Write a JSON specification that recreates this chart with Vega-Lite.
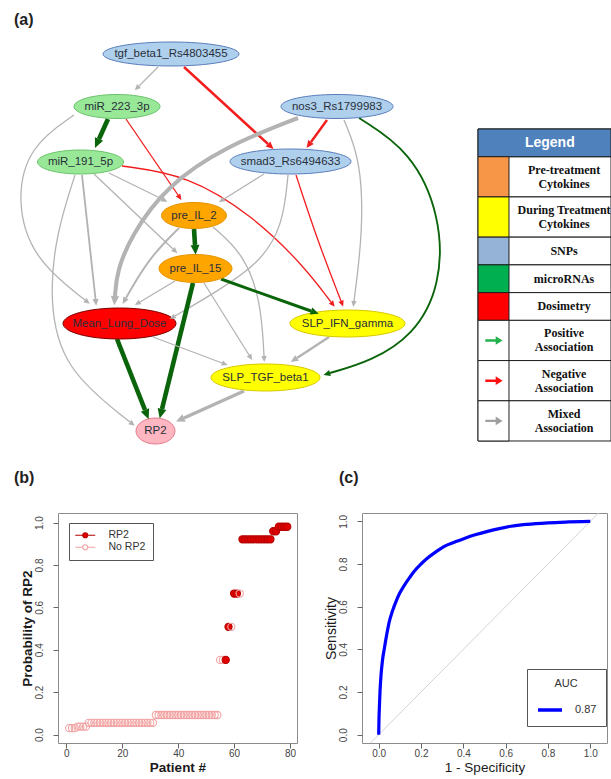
{
 "$schema": "https://vega.github.io/schema/vega-lite/v6.json",
 "background": "white",
 "padding": {"left": 13, "top": 12, "right": 0, "bottom": 2},
 "bounds": "full",
 "spacing": 13,
 "config": {
  "font": "Liberation Sans",
  "view": {"stroke": "#8c8c8c", "strokeWidth": 1},
  "axis": {"grid": false, "domain": false, "tickColor": "#666", "tickSize": 5, "labelColor": "#444", "labelFontSize": 10, "titleColor": "#1a1a1a", "labelOverlap": false, "labelFlush": false}
 },
 "resolve": {"scale": {"x": "independent", "y": "independent", "color": "independent", "fill": "independent", "stroke": "independent", "shape": "independent", "size": "independent", "strokeWidth": "independent"}},
 "datasets": {
  "nodes": [
   {"n": "tgf_beta1_Rs4803455", "g": "snp", "x": 17.0, "y": 5.3},
   {"n": "miR_223_3p", "g": "mirna", "x": 11.6, "y": 10.55},
   {"n": "nos3_Rs1799983", "g": "snp", "x": 33.6, "y": 10.55},
   {"n": "miR_191_5p", "g": "mirna", "x": 7.95, "y": 16.1},
   {"n": "smad3_Rs6494633", "g": "snp", "x": 28.95, "y": 16.05},
   {"n": "pre_IL_2", "g": "pre", "x": 19.3, "y": 21.45},
   {"n": "pre_IL_15", "g": "pre", "x": 19.45, "y": 26.75},
   {"n": "Mean_Lung_Dose", "g": "dose", "x": 11.85, "y": 32.25},
   {"n": "SLP_IFN_gamma", "g": "during", "x": 34.65, "y": 32.25},
   {"n": "SLP_TGF_beta1", "g": "during", "x": 26.45, "y": 37.65},
   {"n": "RP2", "g": "out", "x": 15.45, "y": 43.0}
  ],
  "edges": [
   {"e": 1, "t": "mixed", "w": 1, "o": 0, "x": 15.7, "y": 6.6}, {"e": 1, "t": "mixed", "w": 1, "o": 1, "x": 13.8, "y": 8.5},
   {"e": 2, "t": "negative", "w": 2, "o": 0, "x": 18.3, "y": 6.6}, {"e": 2, "t": "negative", "w": 2, "o": 1, "x": 26.7, "y": 14.3},
   {"e": 3, "t": "negative", "w": 2, "o": 0, "x": 32.6, "y": 11.9}, {"e": 3, "t": "negative", "w": 2, "o": 1, "x": 31.0, "y": 14.1},
   {"e": 4, "t": "positive", "w": 4, "o": 0, "x": 10.7, "y": 11.8}, {"e": 4, "t": "positive", "w": 4, "o": 1, "x": 9.8, "y": 13.8},
   {"e": 5, "t": "negative", "w": 1, "o": 0, "x": 12.5, "y": 11.8}, {"e": 5, "t": "negative", "w": 1, "o": 1, "x": 17.7, "y": 19.4},
   {"e": 6, "t": "negative", "w": 1, "o": 0, "x": 12.1, "y": 16.5}, {"e": 6, "t": "negative", "w": 1, "o": 1, "x": 18.7, "y": 17.4}, {"e": 6, "t": "negative", "w": 1, "o": 2, "x": 25.2, "y": 21.5}, {"e": 6, "t": "negative", "w": 1, "o": 3, "x": 30.2, "y": 26.4}, {"e": 6, "t": "negative", "w": 1, "o": 4, "x": 33.0, "y": 30.1},
   {"e": 7, "t": "negative", "w": 1, "o": 0, "x": 29.5, "y": 17.4}, {"e": 7, "t": "negative", "w": 1, "o": 1, "x": 31.6, "y": 23.8}, {"e": 7, "t": "negative", "w": 1, "o": 2, "x": 34.0, "y": 30.0},
   {"e": 8, "t": "mixed", "w": 1, "o": 0, "x": 34.3, "y": 11.9}, {"e": 8, "t": "mixed", "w": 1, "o": 1, "x": 36.0, "y": 16.0}, {"e": 8, "t": "mixed", "w": 1, "o": 2, "x": 36.2, "y": 23.0}, {"e": 8, "t": "mixed", "w": 1, "o": 3, "x": 35.3, "y": 30.0},
   {"e": 9, "t": "positive", "w": 1.5, "o": 0, "x": 35.8, "y": 11.7}, {"e": 9, "t": "positive", "w": 1.5, "o": 1, "x": 41.0, "y": 15.0}, {"e": 9, "t": "positive", "w": 1.5, "o": 2, "x": 44.0, "y": 21.5}, {"e": 9, "t": "positive", "w": 1.5, "o": 3, "x": 44.0, "y": 28.5}, {"e": 9, "t": "positive", "w": 1.5, "o": 4, "x": 41.2, "y": 33.5}, {"e": 9, "t": "positive", "w": 1.5, "o": 5, "x": 37.0, "y": 36.0}, {"e": 9, "t": "positive", "w": 1.5, "o": 6, "x": 32.9, "y": 37.2},
   {"e": 10, "t": "mixed", "w": 3.5, "o": 0, "x": 29.7, "y": 11.7}, {"e": 10, "t": "mixed", "w": 3.5, "o": 1, "x": 22.5, "y": 14.5}, {"e": 10, "t": "mixed", "w": 3.5, "o": 2, "x": 16.5, "y": 18.5}, {"e": 10, "t": "mixed", "w": 3.5, "o": 3, "x": 13.0, "y": 23.5}, {"e": 10, "t": "mixed", "w": 3.5, "o": 4, "x": 11.6, "y": 27.0}, {"e": 10, "t": "mixed", "w": 3.5, "o": 5, "x": 11.4, "y": 29.5},
   {"e": 11, "t": "mixed", "w": 1.5, "o": 0, "x": 8.1, "y": 17.4}, {"e": 11, "t": "mixed", "w": 1.5, "o": 1, "x": 9.45, "y": 29.8},
   {"e": 12, "t": "mixed", "w": 1, "o": 0, "x": 7.3, "y": 11.4}, {"e": 12, "t": "mixed", "w": 1, "o": 1, "x": 2.8, "y": 14.5}, {"e": 12, "t": "mixed", "w": 1, "o": 2, "x": 1.5, "y": 20.0}, {"e": 12, "t": "mixed", "w": 1, "o": 3, "x": 3.2, "y": 25.8}, {"e": 12, "t": "mixed", "w": 1, "o": 4, "x": 8.4, "y": 29.9},
   {"e": 13, "t": "mixed", "w": 1, "o": 0, "x": 7.4, "y": 17.4}, {"e": 13, "t": "mixed", "w": 1, "o": 1, "x": 5.5, "y": 23.3}, {"e": 13, "t": "mixed", "w": 1, "o": 2, "x": 4.8, "y": 30.0}, {"e": 13, "t": "mixed", "w": 1, "o": 3, "x": 6.2, "y": 36.8}, {"e": 13, "t": "mixed", "w": 1, "o": 4, "x": 12.9, "y": 42.1},
   {"e": 14, "t": "mixed", "w": 1, "o": 0, "x": 10.8, "y": 17.2}, {"e": 14, "t": "mixed", "w": 1, "o": 1, "x": 16.1, "y": 19.8},
   {"e": 15, "t": "mixed", "w": 1, "o": 0, "x": 9.3, "y": 17.3}, {"e": 15, "t": "mixed", "w": 1, "o": 1, "x": 17.2, "y": 24.8},
   {"e": 16, "t": "mixed", "w": 1, "o": 0, "x": 26.3, "y": 17.3}, {"e": 16, "t": "mixed", "w": 1, "o": 1, "x": 22.3, "y": 19.8},
   {"e": 17, "t": "mixed", "w": 1, "o": 0, "x": 28.7, "y": 17.4}, {"e": 17, "t": "mixed", "w": 1, "o": 1, "x": 28.2, "y": 22.5}, {"e": 17, "t": "mixed", "w": 1, "o": 2, "x": 25.8, "y": 26.3}, {"e": 17, "t": "mixed", "w": 1, "o": 3, "x": 21.5, "y": 29.1}, {"e": 17, "t": "mixed", "w": 1, "o": 4, "x": 17.4, "y": 31.5},
   {"e": 18, "t": "positive", "w": 4, "o": 0, "x": 19.3, "y": 22.8}, {"e": 18, "t": "positive", "w": 4, "o": 1, "x": 19.4, "y": 24.4},
   {"e": 19, "t": "mixed", "w": 1.5, "o": 0, "x": 17.8, "y": 22.7}, {"e": 19, "t": "mixed", "w": 1.5, "o": 1, "x": 14.8, "y": 25.7}, {"e": 19, "t": "mixed", "w": 1.5, "o": 2, "x": 12.5, "y": 29.7},
   {"e": 20, "t": "mixed", "w": 1, "o": 0, "x": 21.2, "y": 22.6}, {"e": 20, "t": "mixed", "w": 1, "o": 1, "x": 24.3, "y": 25.3}, {"e": 20, "t": "mixed", "w": 1, "o": 2, "x": 26.0, "y": 30.0}, {"e": 20, "t": "mixed", "w": 1, "o": 3, "x": 26.3, "y": 35.5},
   {"e": 21, "t": "mixed", "w": 1, "o": 0, "x": 17.4, "y": 28.0}, {"e": 21, "t": "mixed", "w": 1, "o": 1, "x": 13.9, "y": 30.1},
   {"e": 22, "t": "positive", "w": 2.5, "o": 0, "x": 22.0, "y": 27.8}, {"e": 22, "t": "positive", "w": 2.5, "o": 1, "x": 31.0, "y": 31.0},
   {"e": 23, "t": "positive", "w": 4, "o": 0, "x": 19.2, "y": 28.2}, {"e": 23, "t": "positive", "w": 4, "o": 1, "x": 16.1, "y": 40.8},
   {"e": 24, "t": "mixed", "w": 1, "o": 0, "x": 20.3, "y": 28.2}, {"e": 24, "t": "mixed", "w": 1, "o": 1, "x": 24.8, "y": 35.4},
   {"e": 25, "t": "positive", "w": 4, "o": 0, "x": 11.6, "y": 33.8}, {"e": 25, "t": "positive", "w": 4, "o": 1, "x": 14.4, "y": 40.9},
   {"e": 26, "t": "mixed", "w": 1, "o": 0, "x": 15.2, "y": 33.6}, {"e": 26, "t": "mixed", "w": 1, "o": 1, "x": 22.1, "y": 36.2},
   {"e": 27, "t": "mixed", "w": 2, "o": 0, "x": 32.8, "y": 33.6}, {"e": 27, "t": "mixed", "w": 2, "o": 1, "x": 29.6, "y": 35.7},
   {"e": 28, "t": "mixed", "w": 3, "o": 0, "x": 24.3, "y": 39.0}, {"e": 28, "t": "mixed", "w": 3, "o": 1, "x": 18.3, "y": 41.7}
  ],
  "legtab": [
   {"i": 0, "kind": "header", "k": "head", "label": "Legend"},
   {"i": 1, "kind": "color", "k": "pre", "label": ["Pre-treatment", "Cytokines"]},
   {"i": 2, "kind": "color", "k": "during", "label": ["During Treatment", "Cytokines"]},
   {"i": 3, "kind": "color", "k": "snp", "label": "SNPs"},
   {"i": 4, "kind": "color", "k": "mirna", "label": "microRNAs"},
   {"i": 5, "kind": "color", "k": "dose", "label": "Dosimetry"},
   {"i": 6, "kind": "arrow", "k": "pos", "label": ["Positive", "Association"]},
   {"i": 7, "kind": "arrow", "k": "neg", "label": ["Negative", "Association"]},
   {"i": 8, "kind": "arrow", "k": "mix", "label": ["Mixed", "Association"]}
  ],
  "pts": [
   {"p": 1, "prob": 0.03, "g": "No RP2"}, {"p": 2, "prob": 0.03, "g": "No RP2"}, {"p": 3, "prob": 0.03, "g": "No RP2"},
   {"p": 4, "prob": 0.037, "g": "No RP2"}, {"p": 5, "prob": 0.037, "g": "No RP2"}, {"p": 6, "prob": 0.037, "g": "No RP2"}, {"p": 7, "prob": 0.037, "g": "No RP2"},
   {"p": 8, "prob": 0.055, "g": "No RP2"}, {"p": 9, "prob": 0.055, "g": "No RP2"}, {"p": 10, "prob": 0.055, "g": "No RP2"}, {"p": 11, "prob": 0.055, "g": "No RP2"}, {"p": 12, "prob": 0.055, "g": "No RP2"}, {"p": 13, "prob": 0.055, "g": "No RP2"}, {"p": 14, "prob": 0.055, "g": "No RP2"}, {"p": 15, "prob": 0.055, "g": "No RP2"}, {"p": 16, "prob": 0.055, "g": "No RP2"}, {"p": 17, "prob": 0.055, "g": "No RP2"}, {"p": 18, "prob": 0.055, "g": "No RP2"}, {"p": 19, "prob": 0.055, "g": "No RP2"}, {"p": 20, "prob": 0.055, "g": "No RP2"}, {"p": 21, "prob": 0.055, "g": "No RP2"}, {"p": 22, "prob": 0.055, "g": "No RP2"}, {"p": 23, "prob": 0.055, "g": "No RP2"}, {"p": 24, "prob": 0.055, "g": "No RP2"}, {"p": 25, "prob": 0.055, "g": "No RP2"}, {"p": 26, "prob": 0.055, "g": "No RP2"}, {"p": 27, "prob": 0.055, "g": "No RP2"}, {"p": 28, "prob": 0.055, "g": "No RP2"}, {"p": 29, "prob": 0.055, "g": "No RP2"}, {"p": 30, "prob": 0.055, "g": "No RP2"}, {"p": 31, "prob": 0.055, "g": "No RP2"},
   {"p": 32, "prob": 0.092, "g": "No RP2"}, {"p": 33, "prob": 0.092, "g": "No RP2"}, {"p": 34, "prob": 0.092, "g": "No RP2"}, {"p": 35, "prob": 0.092, "g": "No RP2"}, {"p": 36, "prob": 0.092, "g": "No RP2"}, {"p": 37, "prob": 0.092, "g": "No RP2"}, {"p": 38, "prob": 0.092, "g": "No RP2"}, {"p": 39, "prob": 0.092, "g": "No RP2"}, {"p": 40, "prob": 0.092, "g": "No RP2"}, {"p": 41, "prob": 0.092, "g": "No RP2"}, {"p": 42, "prob": 0.092, "g": "No RP2"}, {"p": 43, "prob": 0.092, "g": "No RP2"}, {"p": 44, "prob": 0.092, "g": "No RP2"}, {"p": 45, "prob": 0.092, "g": "No RP2"}, {"p": 46, "prob": 0.092, "g": "No RP2"}, {"p": 47, "prob": 0.092, "g": "No RP2"}, {"p": 48, "prob": 0.092, "g": "No RP2"}, {"p": 49, "prob": 0.092, "g": "No RP2"}, {"p": 50, "prob": 0.092, "g": "No RP2"}, {"p": 51, "prob": 0.092, "g": "No RP2"}, {"p": 52, "prob": 0.092, "g": "No RP2"}, {"p": 53, "prob": 0.092, "g": "No RP2"}, {"p": 54, "prob": 0.092, "g": "No RP2"},
   {"p": 55, "prob": 0.352, "g": "No RP2"}, {"p": 56, "prob": 0.352, "g": "No RP2"}, {"p": 57, "prob": 0.352, "g": "RP2"},
   {"p": 58, "prob": 0.508, "g": "RP2"}, {"p": 59, "prob": 0.508, "g": "No RP2"},
   {"p": 60, "prob": 0.665, "g": "RP2"}, {"p": 61, "prob": 0.665, "g": "RP2"}, {"p": 62, "prob": 0.665, "g": "No RP2"},
   {"p": 63, "prob": 0.921, "g": "RP2"}, {"p": 64, "prob": 0.921, "g": "RP2"}, {"p": 65, "prob": 0.921, "g": "RP2"}, {"p": 66, "prob": 0.921, "g": "RP2"}, {"p": 67, "prob": 0.921, "g": "RP2"}, {"p": 68, "prob": 0.921, "g": "RP2"}, {"p": 69, "prob": 0.921, "g": "RP2"}, {"p": 70, "prob": 0.921, "g": "RP2"}, {"p": 71, "prob": 0.921, "g": "RP2"}, {"p": 72, "prob": 0.921, "g": "RP2"}, {"p": 73, "prob": 0.921, "g": "RP2"},
   {"p": 74, "prob": 0.959, "g": "RP2"}, {"p": 75, "prob": 0.959, "g": "RP2"},
   {"p": 76, "prob": 0.98, "g": "RP2"}, {"p": 77, "prob": 0.98, "g": "RP2"}, {"p": 78, "prob": 0.98, "g": "RP2"}, {"p": 79, "prob": 0.98, "g": "RP2"}
  ],
  "roc": [
   {"fpr": 0, "tpr": 0, "auc": "0.87"}, {"fpr": 0.001, "tpr": 0.06, "auc": "0.87"}, {"fpr": 0.003, "tpr": 0.125, "auc": "0.87"}, {"fpr": 0.006, "tpr": 0.2, "auc": "0.87"}, {"fpr": 0.011, "tpr": 0.28, "auc": "0.87"}, {"fpr": 0.018, "tpr": 0.35, "auc": "0.87"}, {"fpr": 0.027, "tpr": 0.406, "auc": "0.87"}, {"fpr": 0.038, "tpr": 0.47, "auc": "0.87"}, {"fpr": 0.05, "tpr": 0.53, "auc": "0.87"}, {"fpr": 0.065, "tpr": 0.58, "auc": "0.87"}, {"fpr": 0.082, "tpr": 0.625, "auc": "0.87"}, {"fpr": 0.1, "tpr": 0.665, "auc": "0.87"}, {"fpr": 0.121, "tpr": 0.7, "auc": "0.87"}, {"fpr": 0.145, "tpr": 0.735, "auc": "0.87"}, {"fpr": 0.168, "tpr": 0.766, "auc": "0.87"}, {"fpr": 0.2, "tpr": 0.8, "auc": "0.87"}, {"fpr": 0.231, "tpr": 0.828, "auc": "0.87"}, {"fpr": 0.27, "tpr": 0.857, "auc": "0.87"}, {"fpr": 0.31, "tpr": 0.883, "auc": "0.87"}, {"fpr": 0.36, "tpr": 0.903, "auc": "0.87"}, {"fpr": 0.405, "tpr": 0.92, "auc": "0.87"}, {"fpr": 0.46, "tpr": 0.938, "auc": "0.87"}, {"fpr": 0.515, "tpr": 0.953, "auc": "0.87"}, {"fpr": 0.57, "tpr": 0.966, "auc": "0.87"}, {"fpr": 0.625, "tpr": 0.977, "auc": "0.87"}, {"fpr": 0.7, "tpr": 0.986, "auc": "0.87"}, {"fpr": 0.8, "tpr": 0.993, "auc": "0.87"}, {"fpr": 0.9, "tpr": 0.997, "auc": "0.87"}, {"fpr": 1.0, "tpr": 1.0, "auc": "0.87"}
  ]
 },
 "vconcat": [
  {
   "spacing": 65,
   "bounds": "flush",
   "resolve": {"scale": {"x": "independent", "y": "independent", "color": "independent", "fill": "independent", "stroke": "independent", "shape": "independent", "size": "independent", "strokeWidth": "independent"}},
   "hconcat": [
    {
     "width": 355, "height": 420,
     "view": {"stroke": null},
     "title": {"text": "(a)", "anchor": "start", "frame": "group", "dx": -44, "offset": -8, "baseline": "bottom", "fontSize": 16, "fontWeight": "bold", "color": "#222"},
     "layer": [
      {
       "data": {"name": "edges"},
       "mark": {"type": "line", "interpolate": "basis", "strokeCap": "butt"},
       "encoding": {
        "x": {"field": "x", "type": "quantitative", "scale": {"domain": [5.7, 41.2], "nice": false, "zero": false}, "axis": null},
        "y": {"field": "y", "type": "quantitative", "scale": {"domain": [3.5, 45.5], "reverse": true, "nice": false, "zero": false}, "axis": null},
        "detail": {"field": "e", "type": "nominal"},
        "order": {"field": "o", "type": "quantitative"},
        "color": {"field": "t", "type": "nominal", "scale": {"domain": ["positive", "negative", "mixed"], "range": ["#0a640a", "#f21d1d", "#b3b3b3"]}, "legend": null},
        "strokeWidth": {"field": "w", "type": "quantitative", "scale": {"domain": [1, 4], "range": [1.3, 4.6]}, "legend": null}
       }
      },
      {
       "data": {"name": "nodes"},
       "mark": {"type": "point", "filled": true, "opacity": 1, "size": 400, "strokeWidth": 1},
       "encoding": {
        "x": {"field": "x", "type": "quantitative"},
        "y": {"field": "y", "type": "quantitative"},
        "shape": {"field": "n", "type": "nominal", "legend": null, "scale": {
          "domain": ["tgf_beta1_Rs4803455", "miR_223_3p", "nos3_Rs1799983", "miR_191_5p", "smad3_Rs6494633", "pre_IL_2", "pre_IL_15", "Mean_Lung_Dose", "SLP_IFN_gamma", "SLP_TGF_beta1", "RP2"],
          "range": [
           "M-6.8 0A6.8 1.2 0 1 1 6.8 0A6.8 1.2 0 1 1 -6.8 0Z",
           "M-4.3 0A4.3 1.2 0 1 1 4.3 0A4.3 1.2 0 1 1 -4.3 0Z",
           "M-5.6 0A5.6 1.2 0 1 1 5.6 0A5.6 1.2 0 1 1 -5.6 0Z",
           "M-4.3 0A4.3 1.2 0 1 1 4.3 0A4.3 1.2 0 1 1 -4.3 0Z",
           "M-6.05 0A6.05 1.25 0 1 1 6.05 0A6.05 1.25 0 1 1 -6.05 0Z",
           "M-3.25 0A3.25 1.3 0 1 1 3.25 0A3.25 1.3 0 1 1 -3.25 0Z",
           "M-3.65 0A3.65 1.4 0 1 1 3.65 0A3.65 1.4 0 1 1 -3.65 0Z",
           "M-5.65 0A5.65 1.55 0 1 1 5.65 0A5.65 1.55 0 1 1 -5.65 0Z",
           "M-5.75 0A5.75 1.35 0 1 1 5.75 0A5.75 1.35 0 1 1 -5.75 0Z",
           "M-5.45 0A5.45 1.35 0 1 1 5.45 0A5.45 1.35 0 1 1 -5.45 0Z",
           "M-1.95 0A1.95 1.3 0 1 1 1.95 0A1.95 1.3 0 1 1 -1.95 0Z"
          ]}},
        "fill": {"field": "g", "type": "nominal", "legend": null, "scale": {"domain": ["snp", "mirna", "pre", "during", "dose", "out"], "range": ["#aed0ec", "#98e898", "#ffa500", "#ffff00", "#ff0000", "#ffb6c1"]}},
        "stroke": {"field": "g", "type": "nominal", "legend": null, "scale": {"domain": ["snp", "mirna", "pre", "during", "dose", "out"], "range": ["#5a7dbb", "#6ac26a", "#e59400", "#d8c800", "#7a0000", "#e27c8c"]}}
       }
      },
      {
       "data": {"name": "edges"},
       "transform": [
        {"window": [{"op": "lead", "field": "x", "as": "px"}, {"op": "lead", "field": "y", "as": "py"}, {"op": "row_number", "as": "rn"}], "groupby": ["e"], "sort": [{"field": "o", "order": "descending"}]},
        {"filter": "datum.rn == 1"},
        {"calculate": "atan2(datum.x - datum.px, datum.py - datum.y) * 180 / PI", "as": "ang"}
       ],
       "mark": {"type": "point", "filled": true, "opacity": 1, "shape": "M0 -2.2L1 0L-1 0Z"},
       "encoding": {
        "x": {"field": "x", "type": "quantitative"},
        "y": {"field": "y", "type": "quantitative"},
        "angle": {"field": "ang", "type": "quantitative", "scale": null},
        "color": {"field": "t", "type": "nominal", "legend": null},
        "size": {"field": "w", "type": "quantitative", "scale": {"domain": [1, 4], "range": [30, 80]}, "legend": null}
       }
      },
      {
       "data": {"name": "nodes"},
       "mark": {"type": "text", "fontSize": 11.5, "color": "#2a2f3a", "font": "Liberation Sans"},
       "encoding": {
        "x": {"field": "x", "type": "quantitative"},
        "y": {"field": "y", "type": "quantitative"},
        "text": {"field": "n", "type": "nominal"}
       }
      }
     ]
    },
    {
     "width": 133, "height": 420,
     "view": {"stroke": null},
     "data": {"name": "legtab"},
     "transform": [
      {"calculate": "isArray(datum.label) ? length(datum.label) : 1", "as": "nl"},
      {"calculate": "datum.nl == 2 ? 1.45 : 1", "as": "h"},
      {"window": [{"op": "sum", "field": "h", "as": "bot"}], "sort": [{"field": "i"}], "frame": [null, 0]},
      {"calculate": "datum.bot - datum.h", "as": "top"},
      {"calculate": "datum.bot - datum.h / 2", "as": "mid"},
      {"calculate": "datum.mid - (datum.nl - 1) * 0.2525", "as": "ty"}
     ],
     "layer": [
      {
       "mark": {"type": "rect", "fill": "white", "stroke": "#1e1e1e", "strokeWidth": 1},
       "encoding": {
        "x": {"datum": 0, "type": "quantitative", "scale": {"domain": [0, 1], "nice": false, "zero": false}, "axis": null},
        "x2": {"datum": 1},
        "y": {"field": "top", "type": "quantitative", "scale": {"domain": [-3.353, 11.791], "reverse": true, "nice": false, "zero": false}, "axis": null},
        "y2": {"field": "bot"}
       }
      },
      {
       "transform": [{"filter": "datum.kind == 'header'"}],
       "mark": {"type": "rect", "fill": "#4f81bd", "stroke": "#1e1e1e", "strokeWidth": 1},
       "encoding": {
        "x": {"datum": 0, "type": "quantitative"},
        "x2": {"datum": 1},
        "y": {"field": "top", "type": "quantitative"},
        "y2": {"field": "bot"}
       }
      },
      {
       "transform": [{"filter": "datum.kind != 'header'"}],
       "mark": {"type": "rect", "stroke": "#1e1e1e", "strokeWidth": 1},
       "encoding": {
        "x": {"datum": 0, "type": "quantitative"},
        "x2": {"datum": 0.233},
        "y": {"field": "top", "type": "quantitative"},
        "y2": {"field": "bot"},
        "fill": {"field": "k", "type": "nominal", "legend": null, "scale": {"domain": ["pre", "during", "snp", "mirna", "dose", "pos", "neg", "mix"], "range": ["#f79646", "#ffff00", "#95b3d7", "#00b050", "#ff0000", "#ffffff", "#ffffff", "#ffffff"]}}
       }
      },
      {
       "transform": [{"filter": "datum.kind == 'arrow'"}],
       "mark": {"type": "point", "filled": true, "opacity": 1, "size": 300, "shape": "M-1 -0.14L0.2 -0.14L0.2 -0.5L1 0L0.2 0.5L0.2 0.14L-1 0.14Z"},
       "encoding": {
        "x": {"datum": 0.12, "type": "quantitative"},
        "y": {"field": "mid", "type": "quantitative"},
        "color": {"field": "k", "type": "nominal", "legend": null, "scale": {"domain": ["pos", "neg", "mix"], "range": ["#22b14c", "#ff1010", "#a0a0a0"]}}
       }
      },
      {
       "transform": [{"filter": "datum.kind != 'header'"}],
       "mark": {"type": "text", "font": "Liberation Serif", "fontWeight": "bold", "fontSize": 12, "lineHeight": 14, "color": "#111"},
       "encoding": {
        "x": {"datum": 0.647, "type": "quantitative"},
        "y": {"field": "ty", "type": "quantitative"},
        "text": {"field": "label", "type": "nominal"}
       }
      },
      {
       "transform": [{"filter": "datum.kind == 'header'"}],
       "mark": {"type": "text", "font": "Liberation Sans", "fontWeight": "bold", "fontSize": 14, "color": "white"},
       "encoding": {
        "x": {"datum": 0.54, "type": "quantitative"},
        "y": {"field": "mid", "type": "quantitative"},
        "text": {"field": "label", "type": "nominal"}
       }
      }
     ]
    }
   ]
  },
  {
   "spacing": 65,
   "bounds": "flush",
   "resolve": {"scale": {"x": "independent", "y": "independent", "color": "independent", "fill": "independent", "stroke": "independent"}},
   "hconcat": [
    {
     "width": 239, "height": 230,
     "title": {"text": "(b)", "anchor": "start", "frame": "group", "dx": -44, "offset": 11.5, "baseline": "bottom", "fontSize": 16, "fontWeight": "bold", "color": "#222"},
     "data": {"name": "pts"},
     "mark": {"type": "point", "size": 52, "strokeWidth": 1.1, "opacity": 1},
     "encoding": {
      "x": {"field": "p", "type": "quantitative", "scale": {"domain": [-3, 82.5], "nice": false, "zero": false}, "axis": {"values": [0, 20, 40, 60, 80], "title": "Patient #", "titleFontSize": 13.5, "titleFontWeight": "bold", "labelPadding": 0, "titlePadding": 2}},
      "y": {"field": "prob", "type": "quantitative", "scale": {"domain": [-0.04, 1.045], "nice": false, "zero": false}, "axis": {"values": [0, 0.2, 0.4, 0.6, 0.8, 1.0], "format": ".1f", "labelAngle": 270, "title": "Probability of RP2", "titleFontSize": 13.5, "titleFontWeight": "bold", "labelPadding": 9, "titlePadding": 0}},
      "fill": {"field": "g", "type": "nominal", "scale": {"domain": ["RP2", "No RP2"], "range": ["#e00000", "rgba(255,255,255,0)"]},
       "legend": {"title": null, "orient": "none", "legendX": 11, "legendY": 10, "symbolType": "M-2.4 0L0.6 0M2.6 0L5.6 0M2.6 0A1 1 0 1 1 0.6 0A1 1 0 1 1 2.6 0Z", "symbolSize": 25, "symbolStrokeWidth": 1.2, "padding": 7, "labelOffset": 22, "strokeColor": "#555", "fillColor": "white", "labelFontSize": 10.5, "labelColor": "#333", "rowPadding": 1}},
      "stroke": {"field": "g", "type": "nominal", "scale": {"domain": ["RP2", "No RP2"], "range": ["#b50000", "#f2a2a2"]},
       "legend": {"title": null, "orient": "none", "legendX": 11, "legendY": 10, "symbolType": "M-2.4 0L0.6 0M2.6 0L5.6 0M2.6 0A1 1 0 1 1 0.6 0A1 1 0 1 1 2.6 0Z", "symbolSize": 25, "symbolStrokeWidth": 1.2, "padding": 7, "labelOffset": 22, "strokeColor": "#555", "fillColor": "white", "labelFontSize": 10.5, "labelColor": "#333", "rowPadding": 1}}
     }
    },
    {
     "width": 245, "height": 230,
     "title": {"text": "(c)", "anchor": "start", "frame": "group", "dx": -23, "offset": 11.5, "baseline": "bottom", "fontSize": 16, "fontWeight": "bold", "color": "#222"},
     "layer": [
      {
       "data": {"values": [{}]},
       "mark": {"type": "rule", "clip": true, "color": "#d4d4d4", "strokeWidth": 1},
       "encoding": {
        "x": {"datum": -0.1, "type": "quantitative"},
        "y": {"datum": -0.1, "type": "quantitative"},
        "x2": {"datum": 1.1},
        "y2": {"datum": 1.1}
       }
      },
      {
       "data": {"name": "roc"},
       "mark": {"type": "line", "strokeWidth": 3.2, "interpolate": "monotone"},
       "encoding": {
        "x": {"field": "fpr", "type": "quantitative", "scale": {"domain": [-0.079, 1.079], "nice": false, "zero": false}, "axis": {"values": [0, 0.2, 0.4, 0.6, 0.8, 1.0], "format": ".1f", "title": "1 - Specificity", "titleFontSize": 13.5, "titleFontWeight": "normal", "labelPadding": 0, "titlePadding": 2}},
        "y": {"field": "tpr", "type": "quantitative", "scale": {"domain": [-0.039, 1.039], "nice": false, "zero": false}, "axis": {"values": [0, 0.2, 0.4, 0.6, 0.8, 1.0], "format": ".1f", "labelAngle": 270, "title": "Sensitivity", "titleFontSize": 14, "titleFontWeight": "normal", "labelPadding": 9, "titlePadding": 0}},
        "color": {"field": "auc", "type": "nominal", "scale": {"domain": ["0.87"], "range": ["#0000ff"]},
         "legend": {"title": "AUC", "orient": "none", "legendX": 165, "legendY": 156, "symbolType": "stroke", "symbolSize": 576, "symbolStrokeWidth": 3.5, "strokeColor": "#555", "fillColor": "white", "padding": 9, "titleAnchor": "middle", "titleAlign": "center", "titleFontWeight": "normal", "titleFontSize": 11, "titleColor": "#333", "titlePadding": 7, "labelFontSize": 11, "labelColor": "#333", "labelOffset": 11}}
       }
      }
     ]
    }
   ]
  }
 ]
}
